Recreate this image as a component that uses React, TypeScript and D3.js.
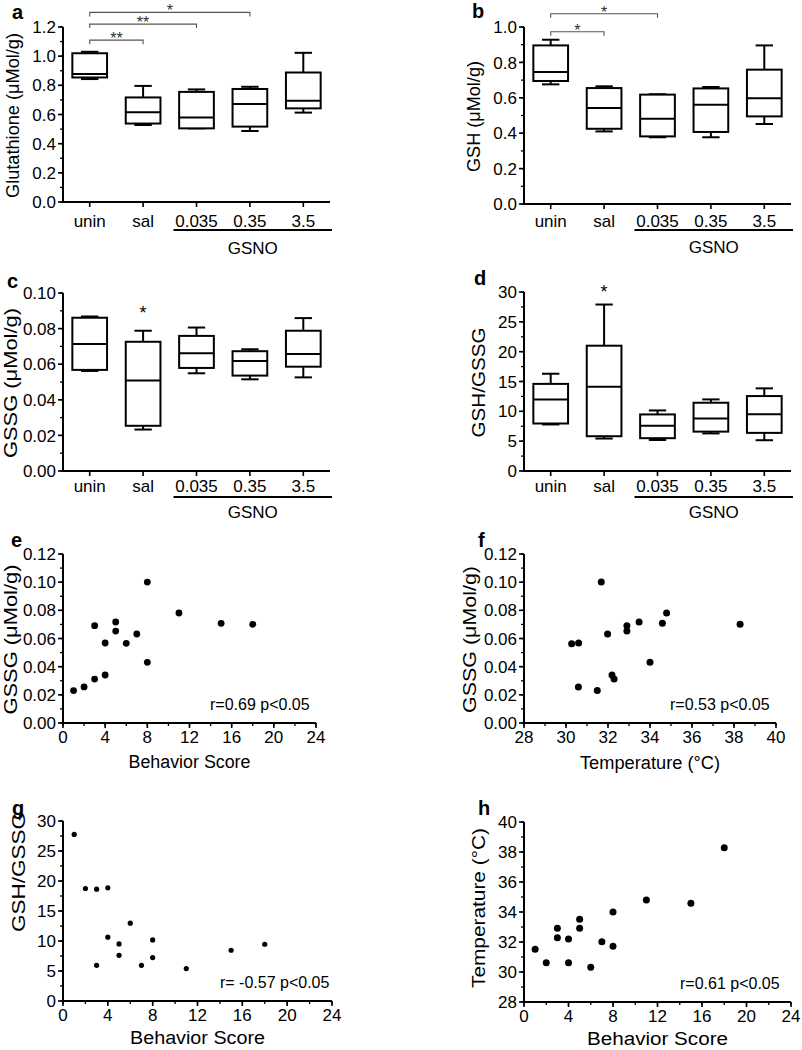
import React from 'react';
import * as d3 from 'd3';

const FONT = '"Liberation Sans", Arial, Helvetica, sans-serif';

// ---------- Data ----------
const categories = ['unin', 'sal', '0.035', '0.35', '3.5'];
const gsnoGroup = ['0.035', '0.35', '3.5'];

// Box stats per category: [min, q1, median, q3, max]
const glutathioneBoxes = [
  [0.843, 0.854, 0.877, 1.02, 1.03],
  [0.528, 0.538, 0.615, 0.717, 0.796],
  [0.505, 0.505, 0.58, 0.755, 0.772],
  [0.487, 0.517, 0.672, 0.775, 0.79],
  [0.613, 0.642, 0.695, 0.888, 1.023],
];
const gshBoxes = [
  [0.676, 0.695, 0.746, 0.896, 0.928],
  [0.41, 0.425, 0.542, 0.655, 0.665],
  [0.377, 0.382, 0.482, 0.618, 0.62],
  [0.377, 0.407, 0.561, 0.653, 0.661],
  [0.452, 0.495, 0.597, 0.759, 0.896],
];
const gssgBoxes = [
  [0.0562, 0.0568, 0.0714, 0.0861, 0.0868],
  [0.0233, 0.0254, 0.0508, 0.0726, 0.0788],
  [0.0549, 0.0579, 0.0662, 0.0759, 0.0806],
  [0.0515, 0.0536, 0.0618, 0.0673, 0.0684],
  [0.0526, 0.0586, 0.0658, 0.0788, 0.0859],
];
const ratioBoxes = [
  [7.8, 7.96, 12.0, 14.6, 16.3],
  [5.44, 5.83, 14.1, 21.0, 27.9],
  [5.2, 5.5, 7.57, 9.48, 10.15],
  [6.3, 6.6, 8.8, 11.44, 12.0],
  [5.16, 6.39, 9.53, 12.56, 13.85],
];

// Significance brackets: [from, to, label, level (data units)]
const glutathioneBrackets: [string, string, string, number][] = [
  ['unin', 'sal', '**', 1.11],
  ['unin', '0.035', '**', 1.22],
  ['unin', '0.35', '*', 1.3],
];
const gshBrackets: [string, string, string, number][] = [
  ['unin', 'sal', '*', 0.973],
  ['unin', '0.035', '*', 1.075],
];

// Scatter data
const eBehavior = [1, 2, 3, 3, 4, 4, 5, 5, 6, 7, 8, 8, 11, 15, 18];
const eGSSG = [0.023, 0.0256, 0.0312, 0.0691, 0.0341, 0.0568, 0.0717, 0.0653, 0.0566, 0.0632, 0.1001, 0.0431, 0.0781, 0.0708, 0.0701];

const fTemperature = [30.27, 30.6, 30.59, 31.49, 31.68, 31.98, 32.19, 32.29, 32.9, 32.9, 33.48, 34.0, 34.59, 34.79, 38.29];
const fGSSG = [0.0563, 0.0568, 0.0256, 0.023, 0.1001, 0.0632, 0.0341, 0.0312, 0.0691, 0.0653, 0.0717, 0.0431, 0.0708, 0.0781, 0.0701];

const gBehavior = [1, 2, 3, 3, 4, 4, 5, 5, 6, 7, 8, 8, 11, 15, 18];
const gRatio = [27.77, 18.75, 18.64, 5.95, 18.86, 10.63, 9.52, 7.62, 12.97, 5.95, 10.18, 7.23, 5.4, 8.46, 9.46];

const hBehavior = [1, 2, 3, 3, 4, 4, 5, 5, 6, 7, 8, 8, 11, 15, 18];
const hTemperature = [31.51, 30.62, 32.91, 32.29, 32.2, 30.62, 33.51, 32.91, 30.31, 32.02, 34.0, 31.71, 34.8, 34.58, 38.29];

// ---------- Helpers ----------
function stepRange(lo: number, hi: number, step: number) {
  const n = Math.round((hi - lo) / step);
  return d3.range(n + 1).map((i) => lo + i * step);
}

function YAxis({ scale, x, major, minor, fmt }: any) {
  const [lo, hi] = scale.domain();
  const majors = stepRange(lo, hi, major);
  const minors = stepRange(lo, hi, minor);
  const f = d3.format(fmt);
  return (
    <g>
      <line x1={x} x2={x} y1={scale(hi)} y2={scale(lo)} stroke="#000" strokeWidth={2} />
      {minors.map((v, i) => (
        <line key={'m' + i} x1={x - 3} x2={x} y1={scale(v)} y2={scale(v)} stroke="#000" strokeWidth={1.3} />
      ))}
      {majors.map((v, i) => (
        <g key={'M' + i}>
          <line x1={x - 5} x2={x} y1={scale(v)} y2={scale(v)} stroke="#000" strokeWidth={1.6} />
          <text x={x - 7} y={scale(v)} dy="0.36em" textAnchor="end" fontSize={17} fontFamily={FONT}>
            {f(v)}
          </text>
        </g>
      ))}
    </g>
  );
}

function PanelLetter({ x, y, letter }: any) {
  return (
    <text x={x} y={y} fontSize={20} fontWeight="bold" fontFamily={FONT}>
      {letter}
    </text>
  );
}

function YTitle({ x, y, text, len }: any) {
  return (
    <text transform={`translate(${x},${y}) rotate(-90)`} textAnchor="middle" fontSize={18} fontFamily={FONT}
      textLength={len} lengthAdjust="spacingAndGlyphs">
      {text}
    </text>
  );
}

function BoxPanel(props: any) {
  const { letter, letterX, letterY, x0, x1, yTop, yBottom, domain, major, minor, fmt, title, titleOffset, titleLen, boxes, brackets, star, starValue, labelDy, lineDy, gsnoDy } = props;
  const y = d3.scaleLinear().domain(domain).range([yBottom, yTop]);
  const x = d3.scaleBand().domain(categories).range([x0, x1]).padding(0);
  const bw = x.bandwidth();
  const boxW = bw * 0.65;
  const cx = (c: string) => (x(c) as number) + bw / 2;
  return (
    <g>
      <PanelLetter x={letterX} y={letterY} letter={letter} />
      <YTitle x={x0 - titleOffset} y={(yTop + yBottom) / 2 + 1} text={title} len={titleLen} />
      <YAxis scale={y} x={x0} major={major} minor={minor} fmt={fmt} />
      <line x1={x0} x2={x1} y1={yBottom} y2={yBottom} stroke="#000" strokeWidth={2} />
      {categories.map((c) => (
        <g key={c}>
          <line x1={cx(c)} x2={cx(c)} y1={yBottom} y2={yBottom + 5} stroke="#000" strokeWidth={1.6} />
          <text x={cx(c)} y={yBottom + labelDy} textAnchor="middle" fontSize={17} fontFamily={FONT}>
            {c}
          </text>
        </g>
      ))}
      <line x1={cx(gsnoGroup[0]) - 23} x2={x1 + 2} y1={yBottom + lineDy} y2={yBottom + lineDy} stroke="#000" strokeWidth={2} />
      <text x={(cx(gsnoGroup[0]) - 23 + x1 + 2) / 2} y={yBottom + gsnoDy} textAnchor="middle" fontSize={17} fontFamily={FONT}>
        GSNO
      </text>
      {boxes.map((b: number[], i: number) => {
        const c = cx(categories[i]);
        const [mn, q1, md, q3, mx] = b;
        return (
          <g key={i} stroke="#000" strokeWidth={2} fill="none">
            <line x1={c} x2={c} y1={y(q3)} y2={y(mx)} />
            <line x1={c} x2={c} y1={y(q1)} y2={y(mn)} />
            <line x1={c - boxW / 4} x2={c + boxW / 4} y1={y(mx)} y2={y(mx)} />
            <line x1={c - boxW / 4} x2={c + boxW / 4} y1={y(mn)} y2={y(mn)} />
            <rect x={c - boxW / 2} y={y(q3)} width={boxW} height={y(q1) - y(q3)} fill="#fff" />
            <line x1={c - boxW / 2} x2={c + boxW / 2} y1={y(md)} y2={y(md)} />
          </g>
        );
      })}
      {(brackets || []).map((br: any, i: number) => {
        const [a, b, lab, lv] = br;
        const yy = y(lv);
        const xa = cx(a);
        const xb = cx(b);
        return (
          <g key={'b' + i}>
            <path d={`M${xa},${yy + 4}V${yy}H${xb}V${yy + 4}`} stroke="#555" strokeWidth={1.1} fill="none" />
            <text x={(xa + xb) / 2} y={yy + 4} textAnchor="middle" fontSize={16} fontFamily={FONT} fill="#333">
              {lab}
            </text>
          </g>
        );
      })}
      {star ? (
        <text x={cx(star)} y={y(starValue) + 8} textAnchor="middle" fontSize={18} fontFamily={FONT}>
          *
        </text>
      ) : null}
    </g>
  );
}

function ScatterPanel(props: any) {
  const { letter, letterX, letterY, x0, x1, yTop, yBottom, xDomain, xMajor, xMinor, yDomain, yMajor, yMinor, yFmt, title, titleOffset, titleLen, titleShift, xTitle, xTitleLen, xTitleDy, xs, ys, r, note, noteX } = props;
  const x = d3.scaleLinear().domain(xDomain).range([x0, x1]);
  const y = d3.scaleLinear().domain(yDomain).range([yBottom, yTop]);
  const xMajors = stepRange(xDomain[0], xDomain[1], xMajor);
  const xMinors = stepRange(xDomain[0], xDomain[1], xMinor);
  return (
    <g>
      <PanelLetter x={letterX} y={letterY} letter={letter} />
      <YTitle x={x0 - titleOffset} y={(yTop + yBottom) / 2 + 1 + (titleShift || 0)} text={title} len={titleLen} />
      <YAxis scale={y} x={x0} major={yMajor} minor={yMinor} fmt={yFmt} />
      <line x1={x0} x2={x1} y1={yBottom} y2={yBottom} stroke="#000" strokeWidth={2} />
      {xMinors.map((v, i) => (
        <line key={'m' + i} x1={x(v)} x2={x(v)} y1={yBottom} y2={yBottom + 3} stroke="#000" strokeWidth={1.3} />
      ))}
      {xMajors.map((v, i) => (
        <g key={'M' + i}>
          <line x1={x(v)} x2={x(v)} y1={yBottom} y2={yBottom + 5} stroke="#000" strokeWidth={1.6} />
          <text x={x(v)} y={yBottom + 20} textAnchor="middle" fontSize={17} fontFamily={FONT}>
            {v}
          </text>
        </g>
      ))}
      <text x={(x0 + x1) / 2} y={yBottom + xTitleDy} textAnchor="middle" fontSize={18} fontFamily={FONT}
        textLength={xTitleLen} lengthAdjust="spacingAndGlyphs">
        {xTitle}
      </text>
      {xs.map((xv: number, i: number) => (
        <circle key={i} cx={x(xv)} cy={y(ys[i])} r={r} fill="#000" />
      ))}
      <text x={noteX} y={yBottom - 13} fontSize={16} fontFamily={FONT}>
        {note}
      </text>
    </g>
  );
}

export default function App() {
  return (
    <svg width={802} height={1050} style={{ position: 'absolute', left: 0, top: 0, background: '#fff' }}>
      <rect width={802} height={1050} fill="#fff" />
      <BoxPanel letter="a" letterX={12} letterY={19} x0={63} x1={330} yTop={27} yBottom={202} domain={[0, 1.2]} major={0.2} minor={0.1} fmt=".1f"
        title="Glutathione (μMol/g)" titleOffset={44} titleLen={165} boxes={glutathioneBoxes} brackets={glutathioneBrackets} labelDy={25} lineDy={28} gsnoDy={52} />
      <BoxPanel letter="b" letterX={472} letterY={18} x0={524} x1={791} yTop={27} yBottom={204} domain={[0, 1.0]} major={0.2} minor={0.1} fmt=".1f"
        title="GSH (μMol/g)" titleOffset={44} titleLen={111} boxes={gshBoxes} brackets={gshBrackets} labelDy={23} lineDy={26} gsnoDy={49} />
      <BoxPanel letter="c" letterX={7} letterY={288} x0={63} x1={330} yTop={293} yBottom={471} domain={[0, 0.1]} major={0.02} minor={0.01} fmt=".2f"
        title="GSSG (μMol/g)" titleOffset={46} titleLen={150} boxes={gssgBoxes} star="sal" starValue={0.09} labelDy={21} lineDy={26} gsnoDy={47} />
      <BoxPanel letter="d" letterX={474} letterY={285} x0={524} x1={791} yTop={292} yBottom={471} domain={[0, 30]} major={5} minor={2.5} fmt="d"
        title="GSH/GSSG" titleOffset={39} titleLen={110} boxes={ratioBoxes} star="sal" starValue={30.3} labelDy={21} lineDy={26} gsnoDy={47} />

      <ScatterPanel letter="e" letterX={11} letterY={547} x0={63} x1={316} yTop={554} yBottom={723} xDomain={[0, 24]} xMajor={4} xMinor={2}
        yDomain={[0, 0.12]} yMajor={0.02} yMinor={0.01} yFmt=".2f" title="GSSG (μMol/g)" titleOffset={46} titleLen={150} xTitle="Behavior Score" xTitleLen={122} xTitleDy={45}
        xs={eBehavior} ys={eGSSG} r={3.4} note="r=0.69 p<0.05" noteX={210} />
      <ScatterPanel letter="f" letterX={478} letterY={547} x0={524} x1={776} yTop={554} yBottom={723} xDomain={[28, 40]} xMajor={2} xMinor={1}
        yDomain={[0, 0.12]} yMajor={0.02} yMinor={0.01} yFmt=".2f" title="GSSG (μMol/g)" titleOffset={48} titleLen={147} xTitle="Temperature (°C)" xTitleLen={140} xTitleDy={46}
        xs={fTemperature} ys={fGSSG} r={3.5} note="r=0.53 p<0.05" noteX={670} />
      <ScatterPanel letter="g" letterX={12} letterY={815} x0={63} x1={332} yTop={821} yBottom={1001} xDomain={[0, 24]} xMajor={4} xMinor={2}
        yDomain={[0, 30]} yMajor={5} yMinor={2.5} yFmt="d" title="GSH/GSSG" titleOffset={38} titleLen={120} titleShift={-40} xTitle="Behavior Score" xTitleLen={135} xTitleDy={43}
        xs={gBehavior} ys={gRatio} r={2.6} note="r= -0.57 p<0.05" noteX={220} />
      <ScatterPanel letter="h" letterX={478} letterY={815} x0={524} x1={791} yTop={822} yBottom={1002} xDomain={[0, 24]} xMajor={4} xMinor={2}
        yDomain={[28, 40]} yMajor={2} yMinor={1} yFmt="d" title="Temperature (°C)" titleOffset={39} titleLen={160} titleShift={-5} xTitle="Behavior Score" xTitleLen={141} xTitleDy={43}
        xs={hBehavior} ys={hTemperature} r={3.5} note="r=0.61 p<0.05" noteX={680} />
    </svg>
  );
}
